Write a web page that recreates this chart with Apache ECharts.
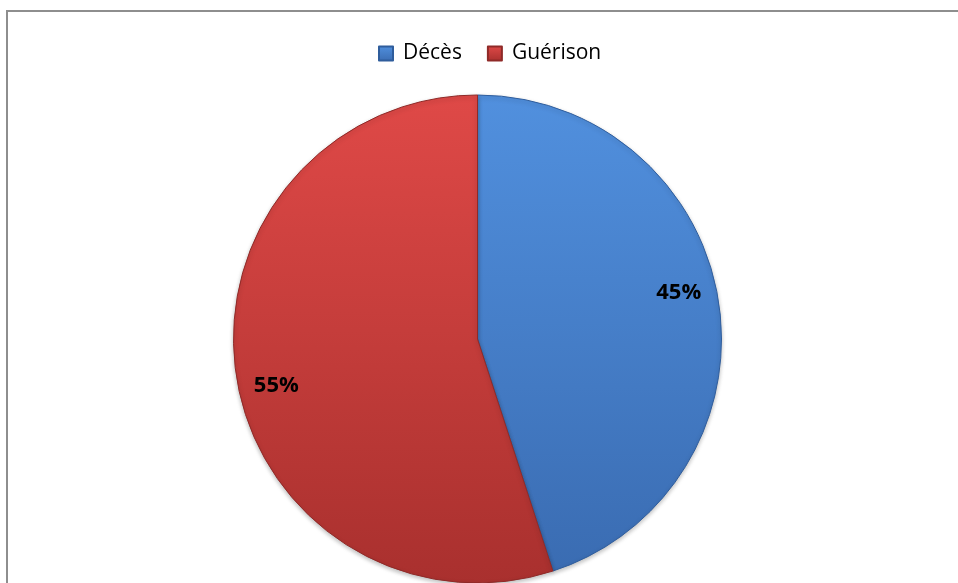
<!DOCTYPE html>
<html>
<head>
<meta charset="utf-8">
<script src="https://cdn.jsdelivr.net/npm/echarts@6/dist/echarts.min.js"></script>
<style>
  html, body { margin: 0; padding: 0; background: #fff; }
  #frame { position: absolute; left: 6px; top: 10px; width: 1000px; height: 1000px;
           border-left: 2px solid #8e8e8e; border-top: 2px solid #8e8e8e; }
  #chart { position: absolute; left: 0; top: 0; width: 958px; height: 583px; }
</style>
</head>
<body>
<div id="frame"></div>
<div id="chart"></div>
<script>
// Issue of the cases: deaths vs recoveries
var categories = ['Décès', 'Guérison'];
var shares = [45, 55];

var fills = [
  { top: '#5190de', bottom: '#3a6cb2', edge: '#2f5d9c' },
  { top: '#df4947', bottom: '#a9302e', edge: '#8f2a28' }
];

function grad(c) {
  return new echarts.graphic.LinearGradient(0, 0, 0, 1, [
    { offset: 0, color: c.top },
    { offset: 1, color: c.bottom }
  ]);
}

var pieData = categories.map(function (name, i) {
  return {
    name: name,
    value: shares[i],
    itemStyle: { color: grad(fills[i]), borderColor: fills[i].edge, borderWidth: 1 }
  };
});

var labelData = categories.map(function (name, i) {
  return { name: name, value: shares[i] };
});

var chart = echarts.init(document.getElementById('chart'), null, { renderer: 'canvas' });
chart.setOption({
  backgroundColor: 'transparent',
  animation: false,
  legend: {
    left: 378,
    top: 43,
    padding: 0,
    itemWidth: 14,
    itemHeight: 14,
    itemGap: 25,
    icon: 'rect',
    textStyle: { fontFamily: 'Open Sans', fontSize: 21, color: '#000', padding: [2, 0, 0, 5] },
    data: categories
  },
  series: [
    {
      type: 'pie',
      center: [477.5, 339],
      radius: [0, 244],
      startAngle: 90,
      clockwise: true,
      label: { show: false },
      labelLine: { show: false },
      itemStyle: { shadowColor: 'rgba(0,0,0,0.25)', shadowBlur: 4, shadowOffsetY: 2 },
      data: pieData,
      z: 2
    },
    {
      // transparent ring carrying the percentage labels
      type: 'pie',
      center: [477.5, 339],
      radius: [163, 244],
      startAngle: 94,
      clockwise: true,
      silent: true,
      legendHoverLink: false,
      itemStyle: { color: 'rgba(0,0,0,0)' },
      label: {
        show: true,
        position: 'inside',
        formatter: '{c}%',
        fontFamily: 'Open Sans',
        fontWeight: 'bold',
        fontSize: 22,
        color: '#000'
      },
      labelLine: { show: false },
      data: labelData,
      z: 3
    }
  ]
});
</script>
</body>
</html>
